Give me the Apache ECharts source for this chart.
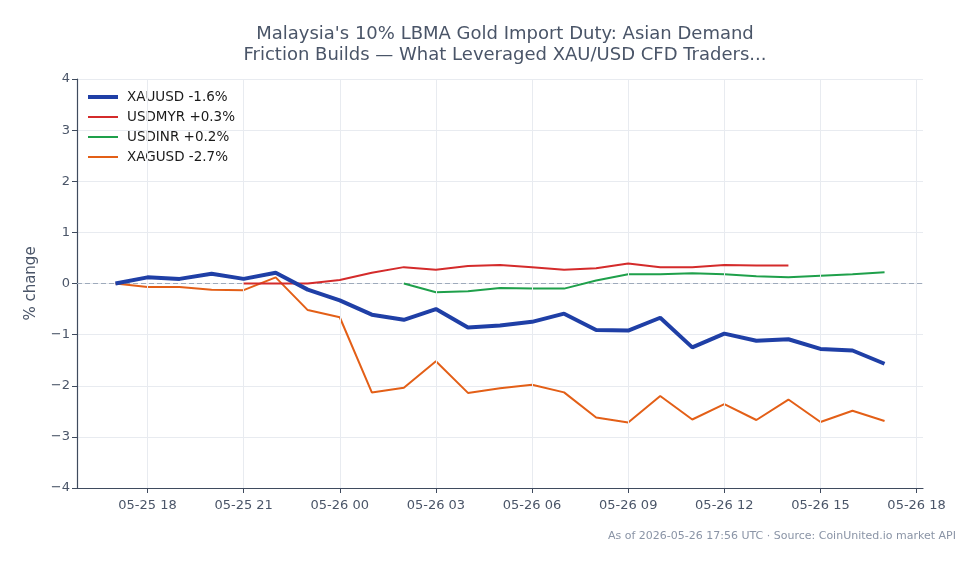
<!DOCTYPE html>
<html>
<head>
<meta charset="utf-8">
<script src="https://cdn.jsdelivr.net/npm/echarts@6/dist/echarts.min.js"></script>
<style>
    html, body {margin: 0; padding: 0; background: #fff;}
    #chart {width: 979px; height: 564px;}
</style>
</head>
<body>
<div id="chart"></div>
<script>
// hourly samples, UTC
const times = [
    '2026-05-25T17:00Z', '2026-05-25T18:00Z', '2026-05-25T19:00Z', '2026-05-25T20:00Z',
    '2026-05-25T21:00Z', '2026-05-25T22:00Z', '2026-05-25T23:00Z', '2026-05-26T00:00Z',
    '2026-05-26T01:00Z', '2026-05-26T02:00Z', '2026-05-26T03:00Z', '2026-05-26T04:00Z',
    '2026-05-26T05:00Z', '2026-05-26T06:00Z', '2026-05-26T07:00Z', '2026-05-26T08:00Z',
    '2026-05-26T09:00Z', '2026-05-26T10:00Z', '2026-05-26T11:00Z', '2026-05-26T12:00Z',
    '2026-05-26T13:00Z', '2026-05-26T14:00Z', '2026-05-26T15:00Z', '2026-05-26T16:00Z',
    '2026-05-26T17:00Z'
];
const xauusd = [0, 0.12, 0.09, 0.19, 0.09, 0.21, -0.12, -0.33, -0.61, -0.71, -0.50, -0.86, -0.82,
    -0.75, -0.59, -0.91, -0.92, -0.67, -1.25, -0.98, -1.12, -1.09, -1.28, -1.31, -1.57];
const usdmyr = [null, null, null, null, 0, 0, 0, 0.07, 0.21, 0.32, 0.27, 0.34, 0.36,
    0.32, 0.27, 0.30, 0.39, 0.32, 0.32, 0.36, 0.35, 0.35, null, null, null];
const usdinr = [null, null, null, null, null, null, null, null, null, 0, -0.17, -0.15, -0.09,
    -0.10, -0.10, 0.06, 0.18, 0.18, 0.20, 0.18, 0.14, 0.12, 0.15, 0.18, 0.22];
const xagusd = [0, -0.07, -0.07, -0.12, -0.13, 0.12, -0.52, -0.66, -2.13, -2.04, -1.52, -2.14, -2.05,
    -1.98, -2.13, -2.62, -2.72, -2.20, -2.66, -2.36, -2.67, -2.27, -2.71, -2.49, -2.69];
const seriesNames = ['XAUUSD -1.6%', 'USDMYR +0.3%', 'USDINR +0.2%', 'XAGUSD -2.7%'];
const xTicks = [
    '2026-05-25T18:00Z', '2026-05-25T21:00Z', '2026-05-26T00:00Z', '2026-05-26T03:00Z',
    '2026-05-26T06:00Z', '2026-05-26T09:00Z', '2026-05-26T12:00Z', '2026-05-26T15:00Z',
    '2026-05-26T18:00Z'
];
const baseline = 0;

const font = 'DejaVu Sans';
const slate = '#4a5568';
const axisColor = '#3f4b5e';

let ts = times.map(t => Date.parse(t));
let tickVals = xTicks.map(t => Date.parse(t));
let pad = (ts[ts.length - 1] - ts[0]) * 0.05;
let xMin = ts[0] - pad;
let xMax = ts[ts.length - 1] + pad;

function pairs(values) {
    let list = [];
    for (let i = 0; i < ts.length; i++) {
        list.push([ts[i], values[i]]);
    }
    return list;
}

function two(n) {
    return (n < 10 ? '0' : '') + n;
}

// legend swatches: a flat bar inside a 12px tall box (thick one for gold)
const thickIcon = 'path://M0,0M0,12M0,4H30V8H0Z';
const thinIcon = 'path://M0,0M0,12M0,5H30V7H0Z';

let chart = echarts.init(document.getElementById('chart'));
chart.setOption({
    animation: false,
    textStyle: {fontFamily: font},
    title: [{
        text: "Malaysia's 10% LBMA Gold Import Duty: Asian Demand\nFriction Builds \u2014 What Leveraged XAU/USD CFD Traders...",
        left: 500,
        textAlign: 'center',
        top: 19,
        textStyle: {fontFamily: font, fontSize: 18, fontWeight: 'normal', color: slate, lineHeight: 21}
    }, {
        text: 'As of 2026-05-26 17:56 UTC \u00b7 Source: CoinUnited.io market API',
        right: 18,
        top: 526,
        textStyle: {fontFamily: font, fontSize: 11, fontWeight: 'normal', color: '#8a94a6'}
    }],
    legend: {
        orient: 'vertical',
        left: 88,
        top: 90,
        padding: 0,
        itemWidth: 30,
        itemHeight: 12,
        itemGap: 6,
        itemStyle: {borderWidth: 0},
        textStyle: {fontFamily: font, fontSize: 13.5, color: '#1a1a1a', padding: [0, 0, 0, 4]},
        data: seriesNames.map((n, i) => ({name: n, icon: i === 0 ? thickIcon : thinIcon}))
    },
    grid: {left: 77, right: 56, top: 79, bottom: 76},
    xAxis: {
        type: 'value',
        min: xMin,
        max: xMax,
        axisLine: {onZero: false, lineStyle: {color: axisColor, width: 1.2}},
        axisTick: {show: true, length: 5, customValues: tickVals, lineStyle: {color: axisColor}},
        axisLabel: {
            customValues: tickVals,
            margin: 11,
            fontSize: 13,
            color: slate,
            formatter: function (v) {
                let d = new Date(v);
                return two(d.getUTCMonth() + 1) + '-' + two(d.getUTCDate()) + ' ' + two(d.getUTCHours());
            }
        },
        splitLine: {show: false}
    },
    yAxis: {
        type: 'value',
        min: -4,
        max: 4,
        interval: 1,
        name: '% change',
        nameLocation: 'middle',
        nameGap: 38,
        nameTextStyle: {fontFamily: font, fontSize: 15, color: slate},
        axisLine: {show: true, onZero: false, lineStyle: {color: axisColor, width: 1.2}},
        axisTick: {show: true, length: 5, lineStyle: {color: axisColor}},
        axisLabel: {
            margin: 7,
            fontSize: 13,
            color: slate,
            formatter: v => String(v).replace('-', '\u2212')
        },
        splitLine: {lineStyle: {color: '#e8ebf0', width: 1}}
    },
    series: [
        {
            // grid verticals at the 3-hour ticks
            type: 'line',
            data: [],
            silent: true,
            z: 1,
            markLine: {
                silent: true,
                symbol: 'none',
                label: {show: false},
                lineStyle: {color: '#e8ebf0', type: 'solid', width: 1},
                data: tickVals.map(v => ({xAxis: v}))
            }
        },
        {
            // dashed zero line across the whole plot
            type: 'line',
            symbol: 'none',
            silent: true,
            z: 2,
            lineStyle: {color: '#9eaabb', type: [5, 3], width: 1.2},
            data: [[xMin, baseline], [xMax, baseline]]
        },
        {
            name: seriesNames[0],
            type: 'line',
            symbol: 'none',
            z: 6,
            lineStyle: {color: '#1f3fa6', width: 4},
            itemStyle: {color: '#1f3fa6'},
            data: pairs(xauusd)
        },
        {
            name: seriesNames[1],
            type: 'line',
            symbol: 'none',
            z: 5,
            lineStyle: {color: '#d42b2b', width: 2},
            itemStyle: {color: '#d42b2b'},
            data: pairs(usdmyr)
        },
        {
            name: seriesNames[2],
            type: 'line',
            symbol: 'none',
            z: 4,
            lineStyle: {color: '#1fa04b', width: 2},
            itemStyle: {color: '#1fa04b'},
            data: pairs(usdinr)
        },
        {
            name: seriesNames[3],
            type: 'line',
            symbol: 'none',
            z: 3,
            lineStyle: {color: '#e35f17', width: 2},
            itemStyle: {color: '#e35f17'},
            data: pairs(xagusd)
        }
    ]
});
</script>
</body>
</html>
